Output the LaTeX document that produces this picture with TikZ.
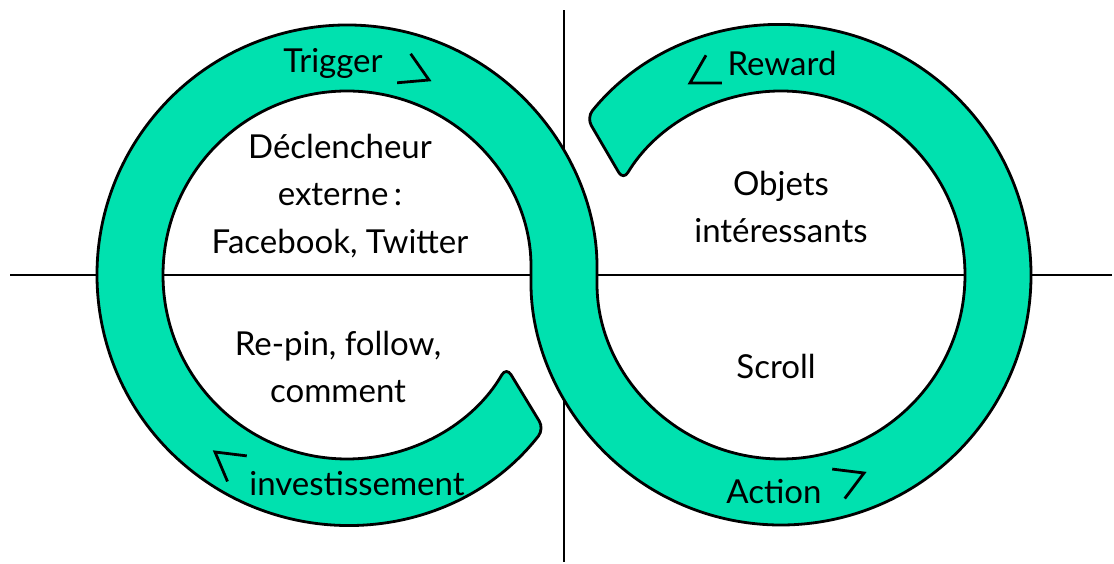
\documentclass[tikz,border=0pt]{standalone}
\usepackage{fontspec}
\setmainfont{Lato}
\usetikzlibrary{positioning, calc}
\definecolor{mint}{HTML}{00E1AF}

\begin{document}
\begin{tikzpicture}[
        x=1pt, y=1pt,
        axis/.style={line width=2.8pt},
        band/.style={draw, line width=2.8pt, fill=mint, rounded corners=9pt},
        txt/.style={font=\fontsize{33}{47.5}\selectfont, align=center, inner sep=0pt},
        chev/.pic={\draw[line width=2.8pt, line join=miter] (-27.7,16) -- (0,0) -- (-27.7,-16);}
        ]
        \useasboundingbox (0,0) rectangle (1114,564);

        % Centres of the two loops
        \coordinate (L) at (347,289);
        \coordinate (R) at (781,289);

        % Axes
        \coordinate (West) at (10,289);
        \coordinate (East) at (1112,289);
        \coordinate (South) at (564,2);
        \coordinate (North) at (564,554);
        \draw[axis] (West) -- (East);
        \draw[axis] (South) -- (North);

        % Band (one S-shaped strip through both loops)
        \draw[band] ($(L)+(322:250)$)
            arc[start angle=322, end angle=0, radius=250pt]
            arc[start angle=180, end angle=509, radius=184pt]
            -- ($(R)+(141:250)$)
            arc[start angle=141, end angle=-180, radius=250pt]
            arc[start angle=0, end angle=330, radius=184pt]
            -- cycle;

        % Labels on the band
        \node[txt] (Trigger) at (333,501) {Trigger};
        \node[txt] (Reward) at (782,501) {Reward};
        \node[txt] (Invest) at (357,80) {investissement};
        \node[txt] (Action) at (774,72) {Action};

        % Texts inside the loops
        \node[txt] (Extern) at (340,368) {Déclencheur\\externe\,:\\Facebook, Twitter};
        \node[txt] (Repin) at (338,197) {Re-pin, follow,\\comment};
        \node[txt] (Objets) at (781,357) {Objets\\intéressants};
        \node[txt] (Scroll) at (776,198) {Scroll};

        % Direction marks
        \pic[rotate=-25] at (429,484) {chev};
        \pic[rotate=143] at (215,112) {chev};
        \pic[rotate=210] at (690,481) {chev};
        \pic[rotate=23] at (864,91) {chev};

    \end{tikzpicture}
\end{document}
